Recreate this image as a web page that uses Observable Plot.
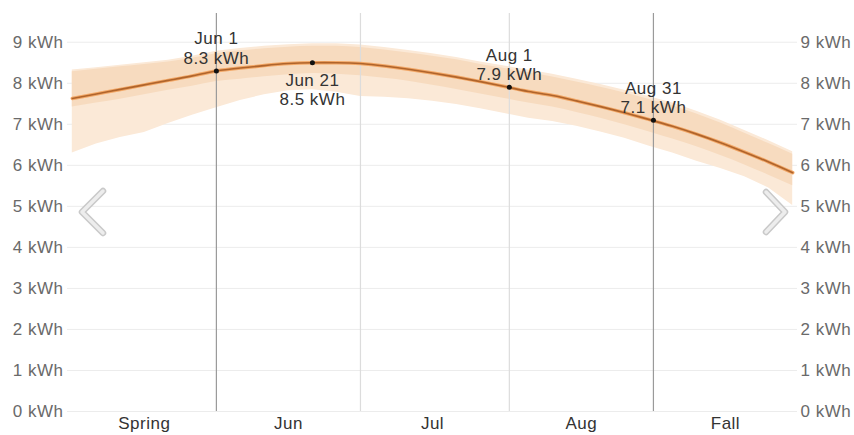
<!DOCTYPE html>
<html>
<head>
<meta charset="utf-8">
<script src="https://cdn.jsdelivr.net/npm/d3@7"></script>
<script src="https://cdn.jsdelivr.net/npm/@observablehq/plot@0.6"></script>
<style>
  html, body { margin: 0; padding: 0; background: #fff; }
  #chart { width: 854px; height: 435px; overflow: hidden; }
</style>
</head>
<body>
<div id="chart"></div>
<script>
// ---- data ----
const dates = [
  "2023-05-02","2023-05-07","2023-05-12","2023-05-17","2023-05-22","2023-05-27",
  "2023-06-01","2023-06-06","2023-06-11","2023-06-16","2023-06-21","2023-06-26",
  "2023-07-01","2023-07-06","2023-07-11","2023-07-16","2023-07-21","2023-07-26",
  "2023-07-31","2023-08-05","2023-08-10","2023-08-15","2023-08-20","2023-08-25",
  "2023-08-30","2023-09-04","2023-09-09","2023-09-14","2023-09-19","2023-09-24",
  "2023-09-29"
];
const meanKWh = [
  7.63, 7.74, 7.85, 7.96, 8.07, 8.18,
  8.30, 8.37, 8.43, 8.48, 8.50, 8.50,
  8.48, 8.42, 8.34, 8.25, 8.15, 8.04,
  7.92, 7.80, 7.70, 7.57, 7.43, 7.28,
  7.12, 6.95, 6.76, 6.55, 6.32, 6.08,
  5.82
];
const maxKWh = [
  8.32, 8.38, 8.44, 8.50, 8.56, 8.66,
  8.78, 8.85, 8.90, 8.94, 8.96, 8.96,
  8.93, 8.87, 8.80, 8.72, 8.63, 8.52,
  8.42, 8.32, 8.22, 8.10, 7.97, 7.83,
  7.68, 7.52, 7.32, 7.10, 6.85, 6.60,
  6.33
];
const upperKWh = [
  8.28, 8.34, 8.40, 8.46, 8.52, 8.61,
  8.72, 8.79, 8.84, 8.88, 8.90, 8.90,
  8.87, 8.81, 8.74, 8.66, 8.57, 8.46,
  8.36, 8.26, 8.15, 8.03, 7.90, 7.76,
  7.61, 7.45, 7.25, 7.03, 6.78, 6.53,
  6.27
];
const lowerKWh = [
  7.42, 7.52, 7.61, 7.72, 7.83, 7.93,
  8.04, 8.10, 8.16, 8.21, 8.24, 8.22,
  8.18, 8.12, 8.05, 7.95, 7.85, 7.74,
  7.63, 7.52, 7.42, 7.29, 7.15, 6.99,
  6.82, 6.64, 6.45, 6.24, 6.01, 5.76,
  5.50
];
const minKWh = [
  6.30, 6.52, 6.68, 6.80, 7.02, 7.22,
  7.40, 7.58, 7.72, 7.82, 7.84, 7.78,
  7.68, 7.66, 7.62, 7.56, 7.48, 7.38,
  7.26, 7.15, 7.07, 6.95, 6.81, 6.66,
  6.47, 6.30, 6.10, 5.92, 5.72, 5.45,
  5.02
];

const boundaryDates = ["2023-06-01", "2023-07-01", "2023-08-01", "2023-08-31"];
const boundaryStrong = [true, false, false, true];

const periodLabels = ["Spring", "Jun", "Jul", "Aug", "Fall"];
const periodCenters = ["2023-05-17", "2023-06-16", "2023-07-16", "2023-08-16", "2023-09-15"];

const annoDates = ["2023-06-01", "2023-06-21", "2023-08-01", "2023-08-31"];
const annoNames = ["Jun 1", "Jun 21", "Aug 1", "Aug 31"];
const annoValues = [8.3, 8.5, 7.9, 7.1];
const annoBelow = [false, true, false, false];

const yTicks = [0, 1, 2, 3, 4, 5, 6, 7, 8, 9];
const xDomain = ["2023-05-01", "2023-09-30"];

// ---- tables built from the arrays ----
const series = dates.map((d, i) => ({
  date: new Date(d), mean: meanKWh[i], max: maxKWh[i], min: minKWh[i],
  upper: upperKWh[i], lower: lowerKWh[i]
}));
const bounds = boundaryDates.map((d, i) => ({date: new Date(d), strong: boundaryStrong[i]}));
const annos = annoDates.map((d, i) => ({
  date: new Date(d), name: annoNames[i], value: annoValues[i], below: annoBelow[i]
}));
const centers = periodCenters.map(d => new Date(d));

// decorative navigation chevrons, placed relative to the frame
function chevrons(index, scales, values, dim) {
  const g = d3.create("svg:g");
  const midY = (dim.marginTop + dim.height - dim.marginBottom) / 2;
  const L = dim.marginLeft, R = dim.width - dim.marginRight;
  const paths = [
    `M${L + 36},${midY - 21} L${L + 15},${midY} L${L + 36},${midY + 21}`,
    `M${R - 31},${midY - 20} L${R - 12},${midY} L${R - 31},${midY + 20}`
  ];
  for (const p of paths) {
    g.append("path").attr("d", p).attr("fill", "none")
      .attr("stroke", "#c9c9c9").attr("stroke-width", 6.5)
      .attr("stroke-linecap", "round").attr("stroke-linejoin", "round");
    g.append("path").attr("d", p).attr("fill", "none")
      .attr("stroke", "#ededed").attr("stroke-width", 3.5)
      .attr("stroke-linecap", "round").attr("stroke-linejoin", "round");
  }
  return g.node();
}

const chart = Plot.plot({
  width: 854,
  height: 435,
  marginLeft: 67,
  marginRight: 57,
  marginTop: 13,
  marginBottom: 24,
  style: {fontFamily: "'Liberation Sans', Arial, sans-serif", fontSize: "17px", letterSpacing: "0.5px", background: "#fff"},
  x: {type: "utc", domain: xDomain.map(d => new Date(d))},
  y: {domain: [0, 9.7]},
  marks: [
    Plot.ruleY(yTicks, {stroke: "#ececec", strokeWidth: 1}),
    Plot.areaY(series, {x: "date", y1: "min", y2: "max", fill: "#fbe9d7", curve: "linear"}),
    Plot.areaY(series, {x: "date", y1: "lower", y2: "upper", fill: "#f7dbbf", curve: "natural"}),
    Plot.ruleX(bounds, {x: "date", stroke: d => d.strong ? "#9a9a9a" : "#dcdcdc", strokeWidth: 1.2}),
    Plot.line(series, {x: "date", y: "mean", stroke: "#f2a766", strokeWidth: 3.5, curve: "natural"}),
    Plot.line(series, {x: "date", y: "mean", stroke: "#b0642b", strokeWidth: 1.6, curve: "natural"}),
    Plot.dot(annos, {x: "date", y: "value", r: 2.5, fill: "#111"}),
    Plot.text(annos.filter(d => !d.below), {
      x: "date", y: "value", text: d => `${d.name}\n${d.value} kWh`,
      lineAnchor: "bottom", lineHeight: 1.15, dy: -7, fill: "#333", fontSize: 17
    }),
    Plot.text(annos.filter(d => d.below), {
      x: "date", y: "value", text: d => `${d.name}\n${d.value} kWh`,
      lineAnchor: "top", lineHeight: 1.15, dy: 9, fill: "#333", fontSize: 17
    }),
    Plot.axisY(yTicks, {anchor: "left", tickSize: 0, tickPadding: 4, tickFormat: d => `${d} kWh`, fill: "#6a6a6a", fontSize: 17, label: null}),
    Plot.axisY(yTicks, {anchor: "right", tickSize: 0, tickPadding: 3, tickFormat: d => `${d} kWh`, fill: "#6a6a6a", fontSize: 17, label: null}),
    Plot.axisX(centers, {anchor: "bottom", tickSize: 0, tickPadding: 5, tickFormat: (d, i) => periodLabels[i], fill: "#333", fontSize: 17, label: null}),
    chevrons
  ]
});
document.getElementById("chart").append(chart);
</script>
</body>
</html>
